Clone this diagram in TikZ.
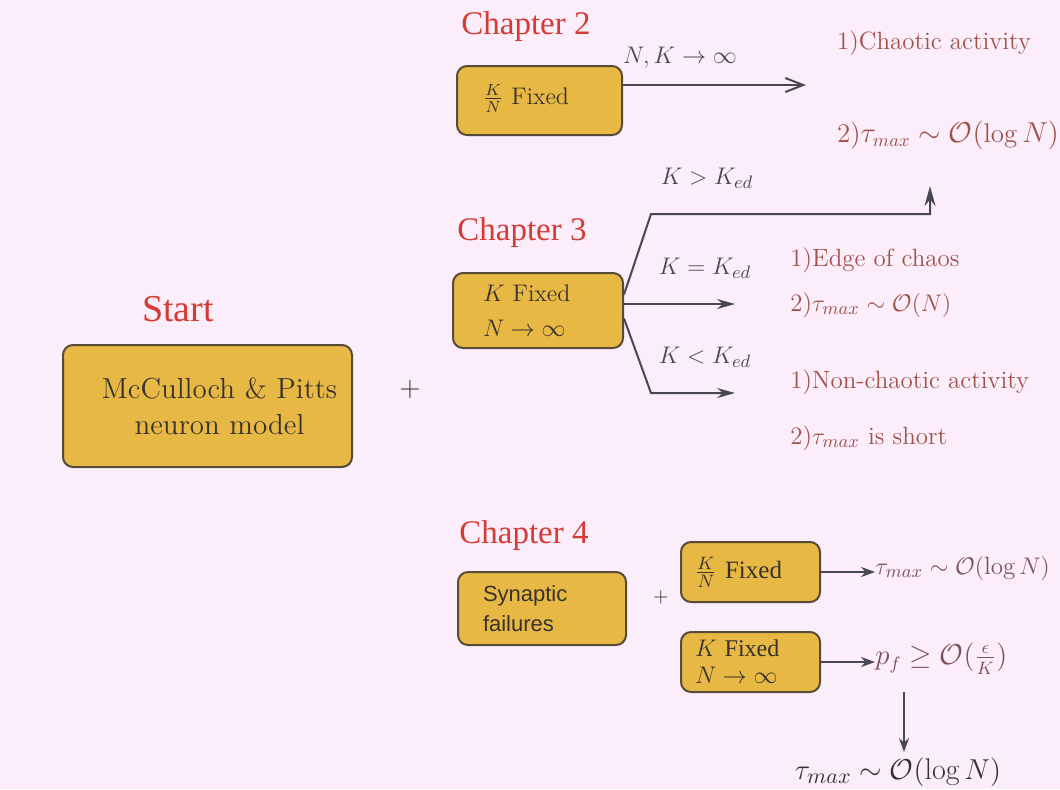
\documentclass[tikz,border=0pt]{standalone}
\usepackage{fontspec}
\usetikzlibrary{arrows.meta}
\newfontfamily\timesf{Liberation Serif}
\newfontfamily\helvf{Liberation Sans}
\definecolor{bgc}{RGB}{251,238,250}
\definecolor{boxfill}{RGB}{232,184,68}
\definecolor{boxline}{RGB}{85,75,55}
\definecolor{chapred}{RGB}{214,58,52}
\definecolor{resred}{RGB}{160,82,72}
\definecolor{resmauve}{RGB}{125,82,88}
\definecolor{inkc}{RGB}{55,50,45}
\definecolor{linec}{RGB}{72,72,84}
\tikzset{
  chap/.style={text=chapred, font=\timesf\fontsize{16.5}{18}\selectfont, inner sep=0pt},
  ybox/.style={draw=boxline, line width=1pt, fill=boxfill, rounded corners=5pt, text=inkc, align=left, inner ysep=0pt},
  res/.style={text=resred, font=\fontsize{12.5}{14}\selectfont, inner sep=0pt},
  res4/.style={text=resmauve, font=\fontsize{12.5}{14}\selectfont, inner sep=0pt},
  cond/.style={text=linec, font=\fontsize{13}{15}\selectfont, inner sep=0pt},
  conn/.style={draw=linec, line width=1pt},
  barb/.style={-{Straight Barb[length=9pt,width=7pt]}},
  stl/.style={-{Stealth[length=9pt,width=5pt]}},
  stls/.style={-{Stealth[length=7pt,width=5pt]}},
  plus/.style={text=inkc, inner sep=0pt},
}
\begin{document}
\begin{tikzpicture}[x=0.5pt,y=-0.5pt]
\fill[bgc] (0,0) rectangle (1060,789);
\useasboundingbox (0,0) rectangle (1060,789);

% Start
\node[chap, font=\timesf\fontsize{19}{21}\selectfont] (start) at (178,309) {Start};
\node[ybox, align=center, text width=134.5pt, inner xsep=5pt, minimum height=61pt, font=\fontsize{14.5}{18}\selectfont] (mcp) at (207.5,406) {\hspace*{12pt}McCulloch \& Pitts\\\hspace*{12pt}neuron model};
\node[plus, font=\fontsize{14}{16}\selectfont] (plus1) at (410,390) {+};

% Chapter 2
\node[chap] (ch2) at (526,27) {Chapter 2};
\node[ybox, text width=56.5pt, inner xsep=13pt, minimum height=34.5pt, font=\fontsize{12}{14}\selectfont] (b2) at (539.5,100.5) {$\frac{K}{N}$ Fixed\rule[-6pt]{0pt}{0pt}};
\coordinate (a2e) at (806,85);
\draw[conn, barb] ([yshift=7.75pt]b2.east) -- (a2e);
\node[cond] (nk) at (680,58) {$N,K\to\infty$};
\node[res] (r2a) at (934,43) {1)Chaotic activity};
\node[res, font=\fontsize{13.5}{15}\selectfont] (r2b) at (948,135) {2)$\tau_{max}\sim\mathcal{O}(\log N)$};

% Chapter 3
\node[chap] (ch3) at (522,233) {Chapter 3};
\node[ybox, text width=55pt, inner xsep=15pt, minimum height=37.5pt, font=\fontsize{12}{17.5}\selectfont] (b3) at (538,310.5) {$K$ Fixed\\$N\to\infty$};
\coordinate (u1) at (651,214);
\coordinate (u2) at (930,214);
\coordinate (u3) at (930,186);
\draw[conn, -{Stealth[length=10pt,width=5.5pt]}] ([yshift=8pt]b3.east) -- (u1) -- (u2) -- (u3);
\coordinate (m1) at (735,304);
\draw[conn, stl] ([yshift=3.25pt]b3.east) -- (m1);
\coordinate (l1) at (651,393);
\coordinate (l2) at (735,393);
\draw[conn, stl] ([yshift=-4pt]b3.east) -- (l1) -- (l2);
\node[cond] (cgt) at (707,178) {$K>K_{ed}$};
\node[cond] (ceq) at (705,268) {$K=K_{ed}$};
\node[cond] (clt) at (705,357) {$K<K_{ed}$};
\node[res, anchor=west] (r3a) at (790,260) {1)Edge of chaos};
\node[res, anchor=west] (r3b) at (790,305) {2)$\tau_{max}\sim\mathcal{O}(N)$};
\node[res, anchor=west] (r3c) at (790,382) {1)Non-chaotic activity};
\node[res, anchor=west] (r3d) at (790,438) {2)$\tau_{max}$ is short};

% Chapter 4
\node[chap] (ch4) at (524,536) {Chapter 4};
\node[ybox, text width=59pt, inner xsep=12.5pt, minimum height=36.5pt, font=\helvf\fontsize{11}{15}\selectfont] (syn) at (542,608.5) {Synaptic\\failures};
\node[plus, font=\fontsize{10}{12}\selectfont] (plus2) at (661,597) {+};
\node[ybox, text width=55.5pt, inner xsep=7pt, minimum height=30pt, font=\timesf\fontsize{12.5}{14}\selectfont] (kn4) at (750.5,572) {$\frac{K}{N}$ Fixed};
\node[ybox, text width=55.5pt, inner xsep=7pt, minimum height=30pt, font=\timesf\fontsize{12}{13.5}\selectfont] (kf4) at (750.5,662) {$K$ Fixed\\$N\to\infty$};
\node[res4, anchor=west] (r4a) at (875,568) {$\tau_{max}\sim\mathcal{O}(\log N)$};
\node[res4, anchor=west, font=\fontsize{13.5}{15}\selectfont] (p4) at (875,659) {$p_f\geq\mathcal{O}(\frac{\epsilon}{K})$};
\draw[conn, stls] (kn4.east) -- (kn4.east -| r4a.west);
\draw[conn, stls] (kf4.east) -- (kf4.east -| p4.west);
\node[cond, text=inkc, font=\fontsize{15}{17}\selectfont] (tb) at (898,772) {$\tau_{max}\sim\mathcal{O}(\log N)$};
\coordinate (d1) at (904,692);
\coordinate (d2) at (904,752);
\draw[conn, stls] (d1) -- (d2);
\end{tikzpicture}
\end{document}
